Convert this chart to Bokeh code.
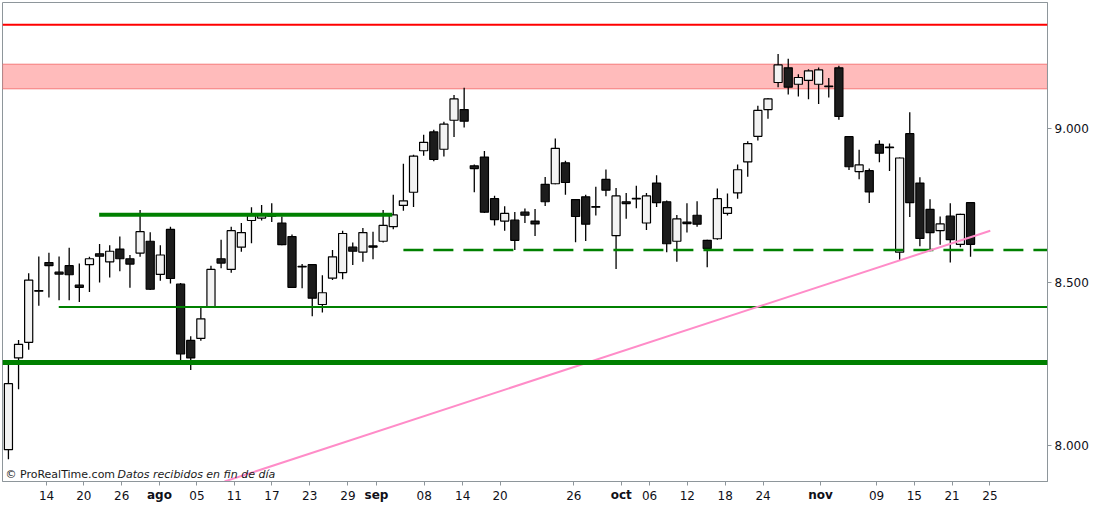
import math
from bokeh.plotting import figure
from bokeh.models import (ColumnDataSource, Range1d, FixedTicker, CustomJSTickFormatter,
                          BoxAnnotation, Label, Span, LinearAxis)
from bokeh.embed import file_html
from bokeh.resources import INLINE

# ---------------- data (IBEX-like daily candles) ----------------
opens = [7986, 8264, 8312, 8474, 8563, 8532, 8553, 8491, 8556, 8591, 8565, 8606, 8575, 8593, 8631, 8525,
         8669, 8494, 8318, 8324, 8423, 8575, 8541, 8612, 8698, 8706, 8718, 8690, 8646, 8551, 8556, 8430,
         8513, 8531, 8612, 8596, 8616, 8631, 8678, 8747, 8790, 8927, 8990, 8932, 9029, 9065, 8877, 8906,
         8769, 8696, 8699, 8725, 8696, 8816, 8818, 8887, 8766, 8775, 8743, 8832, 8649, 8759, 8770, 8690,
         8820, 8759, 8631, 8693, 8715, 8634, 8639, 8721, 8788, 8890, 8975, 9065, 9157, 9207, 9151, 9164,
         9151, 9145, 9207, 8974, 8858, 8861, 8948, 8939, 8596, 8984, 8820, 8734, 8665, 8712, 8621, 8756]
highs = [8244, 8319, 8529, 8582, 8594, 8582, 8610, 8560, 8581, 8622, 8618, 8646, 8587, 8732, 8660, 8618,
         8678, 8498, 8331, 8420, 8553, 8636, 8678, 8690, 8741, 8748, 8754, 8711, 8653, 8558, 8558, 8522,
         8603, 8665, 8627, 8674, 8662, 8732, 8782, 8884, 8914, 8980, 8997, 9024, 9114, 9139, 8881, 8926,
         8779, 8744, 8726, 8737, 8735, 8840, 8968, 8894, 8768, 8782, 8808, 8865, 8804, 8788, 8811, 8788,
         8846, 8763, 8716, 8754, 8761, 8636, 8802, 8786, 8881, 8959, 9078, 9103, 9255, 9238, 9185, 9202,
         9208, 9172, 9214, 8976, 8930, 8868, 8962, 8951, 8905, 9056, 8839, 8767, 8711, 8754, 8720, 8758]
lows = [7958, 8168, 8289, 8426, 8452, 8443, 8443, 8438, 8469, 8499, 8515, 8535, 8483, 8581, 8476, 8505,
        8496, 8254, 8227, 8317, 8421, 8545, 8530, 8597, 8625, 8698, 8693, 8618, 8482, 8481, 8393, 8405,
        8507, 8510, 8555, 8565, 8573, 8627, 8670, 8730, 8742, 8910, 8892, 8908, 8973, 9005, 8790, 8722,
        8682, 8665, 8603, 8690, 8648, 8745, 8816, 8782, 8628, 8632, 8714, 8777, 8542, 8704, 8738, 8667,
        8742, 8596, 8565, 8659, 8678, 8548, 8636, 8714, 8769, 8841, 8961, 9034, 9141, 9116, 9109, 9100,
        9084, 9106, 9031, 8863, 8833, 8755, 8889, 8860, 8568, 8709, 8615, 8599, 8620, 8563, 8612, 8581]
closes = [8185, 8306, 8507, 8472, 8553, 8526, 8524, 8484, 8575, 8583, 8599, 8575, 8558, 8662, 8478, 8587,
          8512, 8276, 8264, 8385, 8541, 8561, 8665, 8659, 8714, 8717, 8712, 8620, 8484, 8549, 8450, 8467,
          8581, 8656, 8599, 8659, 8612, 8682, 8716, 8762, 8909, 8955, 8898, 9016, 9101, 9026, 8868, 8725,
          8701, 8721, 8634, 8715, 8687, 8759, 8935, 8822, 8711, 8686, 8741, 8797, 8778, 8753, 8768, 8778,
          8756, 8623, 8703, 8688, 8686, 8608, 8769, 8740, 8864, 8951, 9062, 9101, 9217, 9141, 9174, 9197,
          9200, 9143, 9042, 8874, 8880, 8791, 8919, 8937, 8903, 8756, 8640, 8659, 8687, 8636, 8718, 8621]

# x-axis labels (trading-day index positions of the date ticks)
tick_labels = ["14", "20", "26", "ago", "05", "11", "17", "23", "29", "sep", "08", "14", "20",
               "26", "oct", "06", "12", "18", "24", "nov", "09", "15", "21", "25"]
tick_pos = [3.77, 7.45, 11.18, 14.91, 18.61, 22.31, 26.02, 29.75, 33.52, 36.34, 41.05, 44.85, 48.55,
            55.83, 60.51, 63.31, 67.04, 70.77, 74.51, 80.19, 85.72, 89.45, 93.18, 96.92]
month_names = ["ago", "sep", "oct", "nov"]
y_ticks = [8000, 8500, 9000]

# drawn levels
resistance_line = 9356
resistance_zone = [9135, 9220]
upper_green = dict(value=8717, start=8.96, end=37.9)
thin_green = dict(value=8422, start=4.97)
thick_green = 8250
dashed_green = dict(value=8603, start=39.0)
trend_x = [21.34, 96.95]
trend_y = [7892, 8665]

X_START, X_END = -0.585, 102.6
Y_START, Y_END = 7892, 9434

# ---------------- figure ----------------
W, H = 1093, 504
p = figure(width=W, height=H, output_backend="svg", toolbar_location=None,
           y_axis_type="log", y_axis_location="right",
           x_range=Range1d(X_START, X_END), y_range=Range1d(Y_START, Y_END),
           min_border_left=2, min_border_right=46, min_border_top=2, min_border_bottom=22,
           background_fill_color="white", border_fill_color="white")
p.grid.visible = False
p.outline_line_color = "#8e969b"
p.outline_line_width = 1

# resistance zone & line
p.add_layout(BoxAnnotation(bottom=resistance_zone[0], top=resistance_zone[1], fill_color="#ffbbbb",
                           fill_alpha=1.0, line_color="#e00000", line_width=1.2, level="underlay"))

# candles
n = len(opens)
idx = list(range(n))
up = [c >= o for o, c in zip(opens, closes)]
src = ColumnDataSource(dict(
    x=idx, high=highs, low=lows,
    top=[max(o, c) for o, c in zip(opens, closes)],
    bottom=[min(o, c) for o, c in zip(opens, closes)],
    fill=["#f3f3f3" if u else "#1c1c1c" for u in up],
))
p.segment(x0="x", y0="high", x1="x", y1="low", source=src, line_color="black", line_width=1.3)
p.vbar(x="x", width=0.8, top="top", bottom="bottom", source=src, fill_color="fill",
       line_color="black", line_width=1.2)

# level lines
p.add_layout(Span(location=resistance_line, dimension="width", line_color="#ff0000", line_width=2))
p.add_layout(Span(location=thick_green, dimension="width", line_color="#008000", line_width=5))
p.segment(x0=[upper_green["start"]], y0=[upper_green["value"]], x1=[upper_green["end"]],
          y1=[upper_green["value"]], line_color="#008000", line_width=4)
p.segment(x0=[thin_green["start"]], y0=[thin_green["value"]], x1=[X_END + 5],
          y1=[thin_green["value"]], line_color="#008000", line_width=2)
p.segment(x0=[dashed_green["start"]], y0=[dashed_green["value"]], x1=[X_END + 5],
          y1=[dashed_green["value"]], line_color="#008000", line_width=2.5, line_dash="20 10")
p.line(trend_x, trend_y, line_color="#ff8cc8", line_width=2)

# axes
AX_COL = "#8e969b"
TXT_COL = "#101018"
xax = p.xaxis[0]
xax.ticker = FixedTicker(ticks=tick_pos, minor_ticks=[])
day_labels = ["" if t in month_names else t for t in tick_labels]
xax.formatter = CustomJSTickFormatter(args=dict(pos=tick_pos, labs=day_labels),
                                      code="const i = pos.indexOf(tick); return i < 0 ? '' : labs[i];")
for ax in (xax, p.yaxis[0]):
    ax.axis_line_color = AX_COL
    ax.major_tick_line_color = AX_COL
    ax.minor_tick_line_color = None
    ax.major_tick_in = 0
    ax.major_tick_out = 4
    ax.major_label_text_font = "DejaVu Sans"
    ax.major_label_text_font_size = "12px"
    ax.major_label_text_color = TXT_COL
    ax.major_label_standoff = 3
xax.major_label_standoff = 5
yax = p.yaxis[0]
yax.ticker = FixedTicker(ticks=y_ticks, minor_ticks=[])
yax.formatter = CustomJSTickFormatter(
    code="return Math.round(tick).toString().replace(/\\B(?=(\\d{3})+(?!\\d))/g, '.');")

# bold month labels: a second, line-less axis pulled up onto the day-label row
month_pos = [pos for lab, pos in zip(tick_labels, tick_pos) if lab in month_names]
month_labs = [lab for lab in tick_labels if lab in month_names]
max_ax = LinearAxis(ticker=FixedTicker(ticks=month_pos, minor_ticks=[]),
                    formatter=CustomJSTickFormatter(args=dict(pos=month_pos, labs=month_labs),
                                                    code="const i = pos.indexOf(tick); return i < 0 ? '' : labs[i];"),
                    axis_line_color=None, major_tick_line_color=None, minor_tick_line_color=None,
                    major_tick_in=0, major_tick_out=0, major_label_standoff=-15,
                    major_label_text_font="DejaVu Sans", major_label_text_font_size="12px",
                    major_label_text_font_style="bold", major_label_text_color=TXT_COL)
p.add_layout(max_ax, "below")

# watermark
p.add_layout(Label(x=X_START, y=Y_START, x_offset=3, y_offset=7, text="© ProRealTime.com",
                   text_baseline="middle", text_font="DejaVu Sans", text_font_size="11px",
                   text_color="#1a1a1a"))
p.add_layout(Label(x=X_START, y=Y_START, x_offset=115, y_offset=7, text="Datos recibidos en fin de día",
                   text_baseline="middle", text_font="DejaVu Sans", text_font_size="11px",
                   text_font_style="italic", text_color="#1a1a1a"))

open("out.html", "w").write(file_html(p, INLINE))
